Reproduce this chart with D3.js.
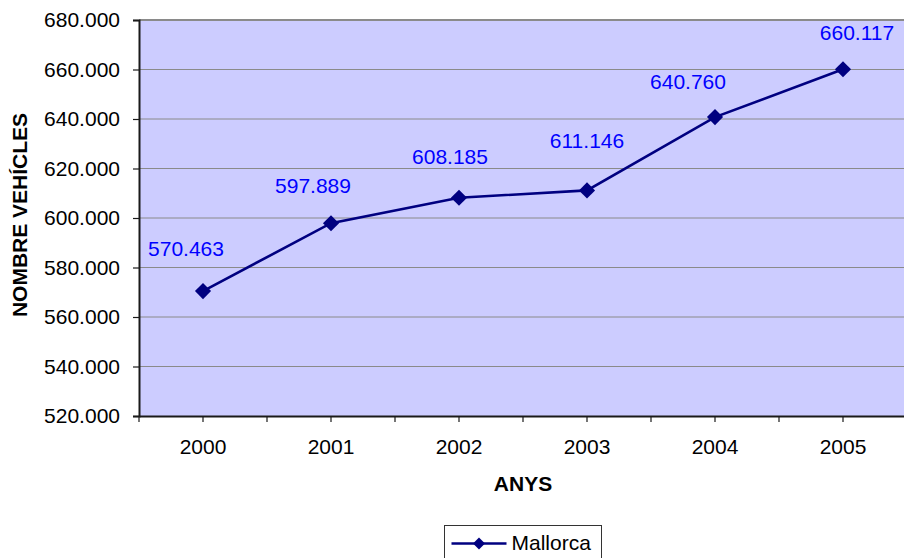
<!DOCTYPE html>
<html>
<head>
<meta charset="utf-8">
<script src="https://cdn.jsdelivr.net/npm/d3@7/dist/d3.min.js"></script>
<style>
  html, body { margin: 0; padding: 0; background: #fff; }
  svg { display: block; font-family: "Liberation Sans", Arial, sans-serif; }
</style>
</head>
<body>
<svg id="chart" width="904" height="558"></svg>
<script>
// Vehicles registered in Mallorca per year
const years = ["2000", "2001", "2002", "2003", "2004", "2005"];
const vehicles = [570463, 597889, 608185, 611146, 640760, 660117];
const yTicks = [520000, 540000, 560000, 580000, 600000, 620000, 640000, 660000, 680000];
const seriesName = "Mallorca";
// hand-placed nudges for each value label, [dx, dy] from its marker
const labelNudge = [[-17, -35], [-18, -30], [-9, -34], [0, -42], [-27, -28], [14, -29]];

const locale = d3.formatLocale({ decimal: ",", thousands: ".", grouping: [3], currency: ["", ""] });
const fmt = locale.format(",");

const svg = d3.select("#chart");
const plot = { left: 139, right: 907, top: 20, bottom: 416 };

const x = d3.scaleBand().domain(years).range([plot.left, plot.right]);
const y = d3.scaleLinear().domain([520000, 680000]).range([plot.bottom, plot.top]);

// plot background
svg.append("rect")
  .attr("x", plot.left).attr("y", plot.top)
  .attr("width", plot.right - plot.left).attr("height", plot.bottom - plot.top)
  .attr("fill", "#CCCCFF");

// horizontal gridlines
svg.append("g")
  .selectAll("line")
  .data(yTicks.slice(1, -1))
  .join("line")
  .attr("x1", plot.left).attr("x2", plot.right)
  .attr("y1", d => y(d)).attr("y2", d => y(d))
  .attr("stroke", "#8a8a8a").attr("stroke-width", 1);

// top frame line
svg.append("line")
  .attr("x1", plot.left).attr("x2", plot.right)
  .attr("y1", plot.top).attr("y2", plot.top)
  .attr("stroke", "#8a8a8a").attr("stroke-width", 2);

// y axis
const yAxis = svg.append("g")
  .attr("transform", `translate(${plot.left},0)`)
  .call(d3.axisLeft(y).tickValues(yTicks).tickFormat(fmt).tickSize(6).tickPadding(13));
yAxis.select(".domain").attr("stroke", "#1a1a1a").attr("stroke-width", 2);
yAxis.selectAll(".tick line").attr("stroke", "#1a1a1a").attr("stroke-width", 1.2);
yAxis.selectAll(".tick text")
  .attr("font-size", 21).attr("fill", "#000")
  .attr("font-family", "'Liberation Sans', Arial, sans-serif");

// x axis: ticks at category edges and centres
const xAxis = svg.append("g")
  .attr("transform", `translate(0,${plot.bottom})`)
  .call(d3.axisBottom(x).tickSize(0).tickPadding(23.5));
xAxis.select(".domain").attr("stroke", "#1a1a1a").attr("stroke-width", 2);
xAxis.selectAll(".tick text")
  .attr("font-size", 21).attr("fill", "#000")
  .attr("font-family", "'Liberation Sans', Arial, sans-serif");
const tickXs = [];
years.forEach(yr => { tickXs.push(x(yr)); tickXs.push(x(yr) + x.bandwidth() / 2); });
tickXs.push(x(years[years.length - 1]) + x.bandwidth());
xAxis.append("g").selectAll("line")
  .data(tickXs)
  .join("line")
  .attr("x1", d => d).attr("x2", d => d)
  .attr("y1", 0).attr("y2", 6)
  .attr("stroke", "#1a1a1a").attr("stroke-width", 1.2);

// axis titles
svg.append("text")
  .attr("x", (plot.left + plot.right) / 2).attr("y", 491)
  .attr("text-anchor", "middle")
  .attr("font-size", 21).attr("font-weight", "bold")
  .text("ANYS");

svg.append("text")
  .attr("transform", "translate(27,215) rotate(-90)")
  .attr("text-anchor", "middle")
  .attr("font-size", 21).attr("font-weight", "bold")
  .text("NOMBRE VEHÍCLES");

// series line
const cx = (d, i) => x(years[i]) + x.bandwidth() / 2;
const line = d3.line().x(cx).y(d => y(d));
svg.append("path")
  .datum(vehicles)
  .attr("d", line)
  .attr("fill", "none")
  .attr("stroke", "#000080")
  .attr("stroke-width", 2.6);

// diamond markers
const diamond = d3.symbol(d3.symbolSquare, 130);
svg.append("g").selectAll("path")
  .data(vehicles)
  .join("path")
  .attr("d", diamond)
  .attr("transform", (d, i) => `translate(${cx(d, i)},${y(d)}) rotate(45)`)
  .attr("fill", "#000080");

// value labels
svg.append("g").selectAll("text")
  .data(vehicles)
  .join("text")
  .attr("x", (d, i) => cx(d, i) + labelNudge[i][0])
  .attr("y", (d, i) => y(d) + labelNudge[i][1])
  .attr("text-anchor", "middle")
  .attr("font-size", 21)
  .attr("fill", "#0000FF")
  .text(d => fmt(d));

// legend
const lg = svg.append("g").attr("transform", "translate(444.5,525.5)");
lg.append("rect")
  .attr("width", 157).attr("height", 40)
  .attr("fill", "#fff").attr("stroke", "#333").attr("stroke-width", 1);
lg.append("line")
  .attr("x1", 7).attr("x2", 62).attr("y1", 18).attr("y2", 18)
  .attr("stroke", "#000080").attr("stroke-width", 2.6);
lg.append("path")
  .attr("d", d3.symbol(d3.symbolSquare, 72)())
  .attr("transform", "translate(34.5,18) rotate(45)")
  .attr("fill", "#000080");
lg.append("text")
  .attr("x", 67).attr("y", 24)
  .attr("font-size", 21).attr("fill", "#000")
  .text(seriesName);
</script>
</body>
</html>
